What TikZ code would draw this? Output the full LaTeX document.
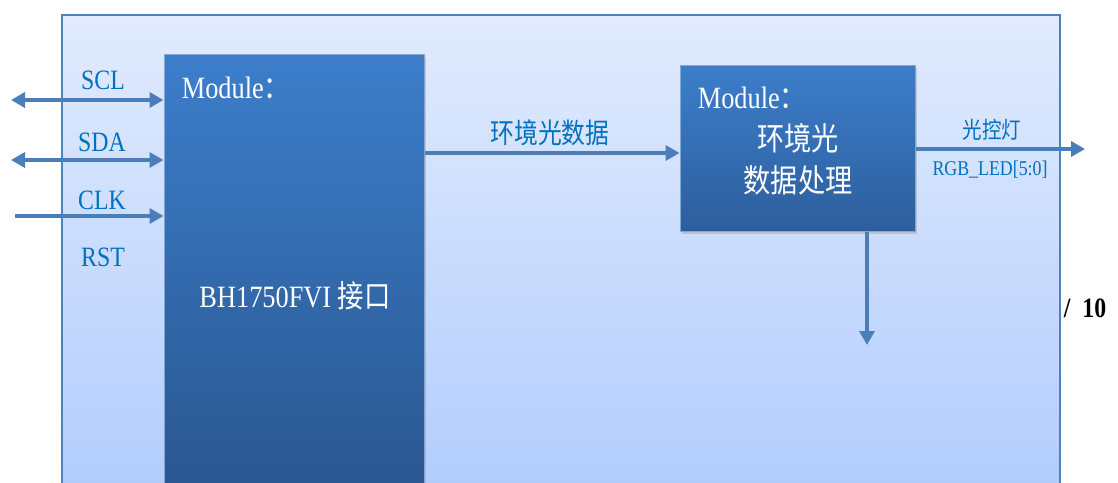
\documentclass[tikz,border=0pt]{standalone}
\usepackage{fontspec}
\setmainfont{Liberation Serif}[FakeStretch=0.85]
\newfontfamily\cjk{Noto Sans CJK SC}[FakeStretch=0.85]
\usetikzlibrary{arrows.meta,shadows}
\definecolor{framec}{RGB}{79,129,189}
\definecolor{bgtop}{RGB}{226,235,254}
\definecolor{bgbot}{RGB}{173,202,252}
\definecolor{modtop}{RGB}{60,126,203}
\definecolor{modbot}{RGB}{45,94,156}
\definecolor{wirec}{RGB}{74,126,187}
\definecolor{labelc}{RGB}{0,112,192}

\begin{document}
\begin{tikzpicture}[x=1pt, y=-1pt,
    modbox/.style={rectangle, draw=framec!70, line width=1pt, top color=modtop, bottom color=modbot, drop shadow={opacity=0.3, shadow xshift=2pt, shadow yshift=-3pt}},
    sig/.style={text=labelc, font=\fontsize{28}{30}\selectfont},
    modtext/.style={text=white, font=\fontsize{31}{33}\selectfont},
    wire/.style={draw=wirec, line width=3.5pt, -{Triangle[length=14pt, width=15pt]}},
    biwire/.style={wire, {Triangle[length=14pt, width=15pt]}-{Triangle[length=14pt, width=15pt]}},
]
\clip (0,0) rectangle (1118,482);
\fill[white] (0,0) rectangle (1118,482);

\node[rectangle, draw=framec, line width=1.5pt, top color=bgtop, bottom color=bgbot, minimum width=998pt, minimum height=520pt, anchor=north west] (board) at (61,14) {};
\node[modbox, bottom color=modbot!90!black, minimum width=260pt, minimum height=460pt] (bh) at (294,284) {};
\node[modbox, minimum width=235pt, minimum height=166pt] (proc) at (797.5,148) {};

\node[sig] (scl) at (103,80) {SCL};
\node[sig] (sda) at (102,142) {SDA};
\node[sig] (clk) at (102,200) {CLK};
\node[sig] (rst) at (103,257) {RST};
\node[modtext] (bhmod) at (236,88) {Module{\cjk ：}};
\node[modtext] (bhname) at (295,296) {BH1750FVI {\cjk 接口}};
\node[sig, font=\cjk\fontsize{28}{30}\selectfont] (datalbl) at (550,133) {环境光数据};
\node[modtext] (procmod) at (752,98) {Module{\cjk ：}};
\node[modtext, align=center, font=\cjk\fontsize{32}{42}\selectfont] (procname) at (798,159) {环境光\\数据处理};
\node[sig, font=\cjk\fontsize{23}{25}\selectfont] (ledlbl) at (992,130) {光控灯};
\node[sig, font=\fontsize{21}{23}\selectfont] (ledbus) at (990,170) {RGB\_LED[5:0]};
\node[font=\bfseries\fontsize{28}{30}\selectfont] (pagenum) at (1085,308) {/\hspace{12pt}10};

\coordinate (sclend) at (11,100);
\coordinate (sdaend) at (11,160);
\coordinate (clkend) at (15,216);
\coordinate (ledend) at (1085,149);
\coordinate (downend) at (867,345);

\draw[biwire] (sclend) -- (sclend -| bh.west);
\draw[biwire] (sdaend) -- (sdaend -| bh.west);
\draw[wire] (clkend) -- (clkend -| bh.west);
\draw[wire] ([yshift=-5pt]proc.west -| bh.east) -- ([yshift=-5pt]proc.west);
\draw[wire] (proc.east |- ledend) -- (ledend);
\draw[wire] (proc.south -| downend) -- (downend);

\end{tikzpicture}
\end{document}
